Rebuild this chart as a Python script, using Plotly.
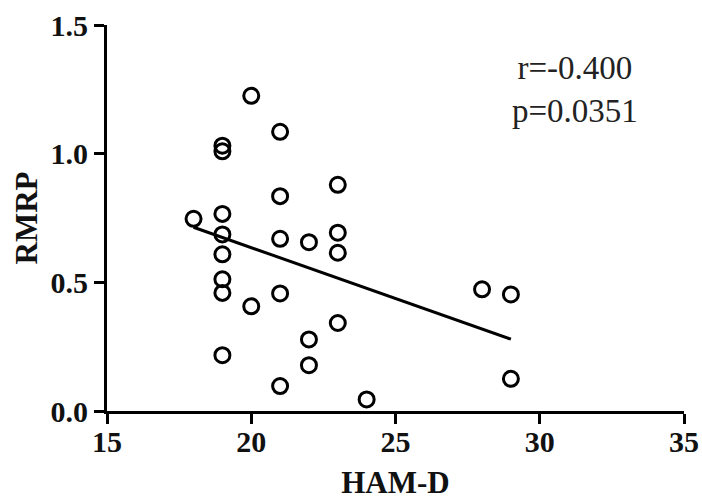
import plotly.graph_objects as go

ham_d = [19, 19, 21, 20, 23, 21, 18, 19, 19, 21, 22, 23, 23, 19, 19, 19, 21, 20, 23, 22, 19, 22, 21, 24, 28, 29, 29]
rmrp = [1.031, 1.009, 1.085, 1.225, 0.879, 0.835, 0.747, 0.766, 0.686, 0.669, 0.656, 0.693, 0.615, 0.609, 0.512, 0.459, 0.457, 0.407, 0.342, 0.278, 0.217, 0.178, 0.097, 0.045, 0.473, 0.453, 0.125]
fit_x = [18, 29]
fit_y = [0.714, 0.279]
x_ticks = [15, 20, 25, 30, 35]
y_ticks = [0.0, 0.5, 1.0, 1.5]
stats_text = "r=-0.400<br>p=0.0351"

serif = "Liberation Serif, Times New Roman, serif"

fig = go.Figure()
fig.add_trace(go.Scatter(x=fit_x, y=fit_y, mode="lines",
                         line=dict(color="black", width=3), showlegend=False))
fig.add_trace(go.Scatter(x=ham_d, y=rmrp, mode="markers", cliponaxis=False,
                         marker=dict(symbol="circle-open", size=15, color="black",
                                     line=dict(width=3, color="black")),
                         showlegend=False))

fig.add_annotation(x=0.811, y=0.834, xref="paper", yref="paper", text=stats_text,
                   showarrow=False, align="center", xanchor="center", yanchor="middle",
                   font=dict(family=serif, size=33, color="#222"))

fig.update_layout(
    width=702, height=500,
    margin=dict(l=107, r=18, t=25, b=89, autoexpand=False),
    plot_bgcolor="white", paper_bgcolor="white",
    xaxis=dict(range=[15, 35], tickvals=x_ticks, ticktext=[str(v) for v in x_ticks],
               showgrid=False, zeroline=False, showline=True, linecolor="black", linewidth=3,
               ticks="outside", ticklen=10, tickwidth=3, tickcolor="black",
               tickfont=dict(family=serif, size=30, color="#111", weight="bold"),
               ticklabelstandoff=-8,
               automargin=False,
               title=dict(text="<b>HAM-D</b>", font=dict(family=serif, size=31, color="#111"), standoff=16)),
    yaxis=dict(range=[0, 1.5], tickvals=y_ticks, ticktext=["0.0", "0.5", "1.0", "1.5"],
               showgrid=False, zeroline=False, showline=True, linecolor="black", linewidth=3,
               ticks="outside", ticklen=10, tickwidth=3, tickcolor="black",
               tickfont=dict(family=serif, size=30, color="#111", weight="bold"),
               automargin=False,
               title=dict(text="<b>RMRP</b>", font=dict(family=serif, size=31, color="#111"), standoff=4)),
)

fig.write_html("out.html", config={"displayModeBar": False},
               post_script="document.body.style.margin='0';document.body.style.overflow='hidden';")
